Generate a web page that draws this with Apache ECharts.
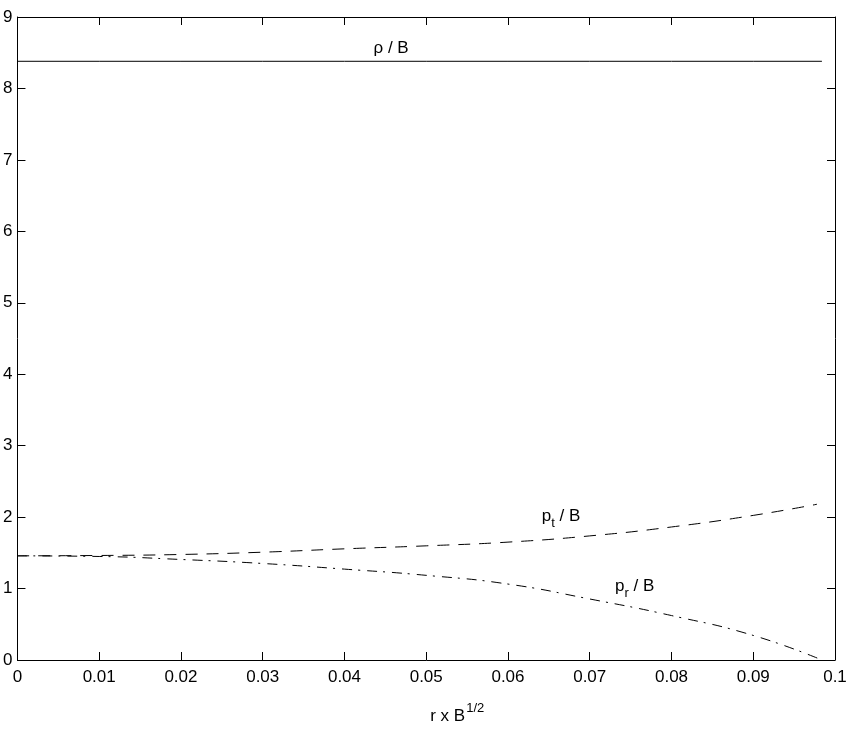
<!DOCTYPE html>
<html>
<head>
<meta charset="utf-8">
<script src="https://cdn.jsdelivr.net/npm/echarts@6/dist/echarts.min.js"></script>
<style>
  html, body { margin: 0; padding: 0; background: #fff; }
  #chart { width: 854px; height: 730px; }
</style>
</head>
<body>
<div id="chart"></div>
<script>
// r x B^(1/2) sample positions
const rVals = [0, 0.01, 0.02, 0.03, 0.04, 0.05, 0.06, 0.07, 0.08, 0.09, 0.0984]
const rhoVals = [8.38, 8.38, 8.38, 8.38, 8.38, 8.38, 8.38, 8.38, 8.38, 8.38, 8.38]
const ptR = [0, 0.01, 0.02, 0.03, 0.04, 0.05, 0.06, 0.07, 0.08, 0.09, 0.0978]
const ptVals = [1.458, 1.463, 1.477, 1.509, 1.556, 1.598, 1.65, 1.737, 1.862, 2.024, 2.18]
const prVals = [1.458, 1.449, 1.407, 1.351, 1.272, 1.185, 1.063, 0.854, 0.622, 0.344, 0]
const xTicks = ['0', '0.01', '0.02', '0.03', '0.04', '0.05', '0.06', '0.07', '0.08', '0.09', '0.1']

// curve labels: [x, y, text]
const notes = [
  [0.0457, 8.56, '{n|ρ / B}'],
  [0.0665, 1.98, '{n|p}{s|t}{n| / B}'],
  [0.0755, 1.0, '{n|p}{s|r}{n| / B}']
]

const pairs = (xs, ys) => xs.map((x, i) => [x, ys[i]])

const chartDom = document.getElementById('chart')
const myChart = echarts.init(chartDom)

const font = 'Liberation Sans, Arial, Helvetica, sans-serif'
const tick = { show: true, inside: true, length: 8, lineStyle: { color: '#000' } }
const line = { show: true, onZero: false, lineStyle: { color: '#000', width: 1 } }

const option = {
  animation: false,
  backgroundColor: '#fff',
  grid: { left: 16, right: 19, top: 17, bottom: 67 },
  xAxis: [
    {
      type: 'value', min: 0, max: 0.1, interval: 0.01,
      axisLine: line, axisTick: tick, splitLine: { show: false },
      axisLabel: {
        color: '#000', fontSize: 17, fontFamily: font, margin: 9,
        formatter: (v) => xTicks[Math.round(v * 100)]
      },
      name: '{n|r x B}{u|1/2}',
      nameLocation: 'middle', nameGap: 42,
      nameTextStyle: {
        padding: [0, 0, 0, 62],
        rich: {
          n: { fontSize: 17, fontFamily: font, color: '#000', verticalAlign: 'bottom' },
          u: { fontSize: 13, fontFamily: font, color: '#000', padding: [0, 0, 10, 1], verticalAlign: 'bottom' }
        }
      }
    },
    {
      type: 'value', position: 'top', min: 0, max: 0.1, interval: 0.01,
      axisLine: line, axisTick: tick, axisLabel: { show: false }, splitLine: { show: false }
    }
  ],
  yAxis: [
    {
      type: 'value', min: 0, max: 9, interval: 1,
      axisLine: line, axisTick: tick, splitLine: { show: false },
      axisLabel: { color: '#000', fontSize: 17, fontFamily: font, margin: 5 }
    },
    {
      type: 'value', position: 'right', min: 0, max: 9, interval: 1,
      axisLine: line, axisTick: tick, axisLabel: { show: false }, splitLine: { show: false }
    }
  ],
  series: [
    {
      name: 'rho', type: 'line', showSymbol: false, smooth: false,
      data: pairs(rVals, rhoVals),
      lineStyle: { color: '#000', width: 1 }
    },
    {
      name: 'pt', type: 'line', showSymbol: false, smooth: true,
      data: pairs(ptR, ptVals),
      lineStyle: { color: '#000', width: 1, type: [12, 9] }
    },
    {
      name: 'pr', type: 'line', showSymbol: false, smooth: true,
      data: pairs(rVals, prVals),
      lineStyle: { color: '#000', width: 1, type: [10, 6, 2, 7] }
    },
    {
      name: 'notes', type: 'scatter', symbolSize: 0,
      itemStyle: { opacity: 1, color: '#000' },
      data: notes.map(n => ({ value: [n[0], n[1]], label: { formatter: n[2] } })),
      label: {
        show: true, position: 'inside', color: '#000', textBorderWidth: 0,
        rich: {
          n: { fontSize: 17, fontFamily: font, color: '#000', textBorderWidth: 0, verticalAlign: 'top' },
          s: { fontSize: 13, fontFamily: font, color: '#000', textBorderWidth: 0, padding: [9, 0, 0, 0], verticalAlign: 'top' }
        }
      }
    }
  ]
}

option && myChart.setOption(option)
</script>
</body>
</html>
